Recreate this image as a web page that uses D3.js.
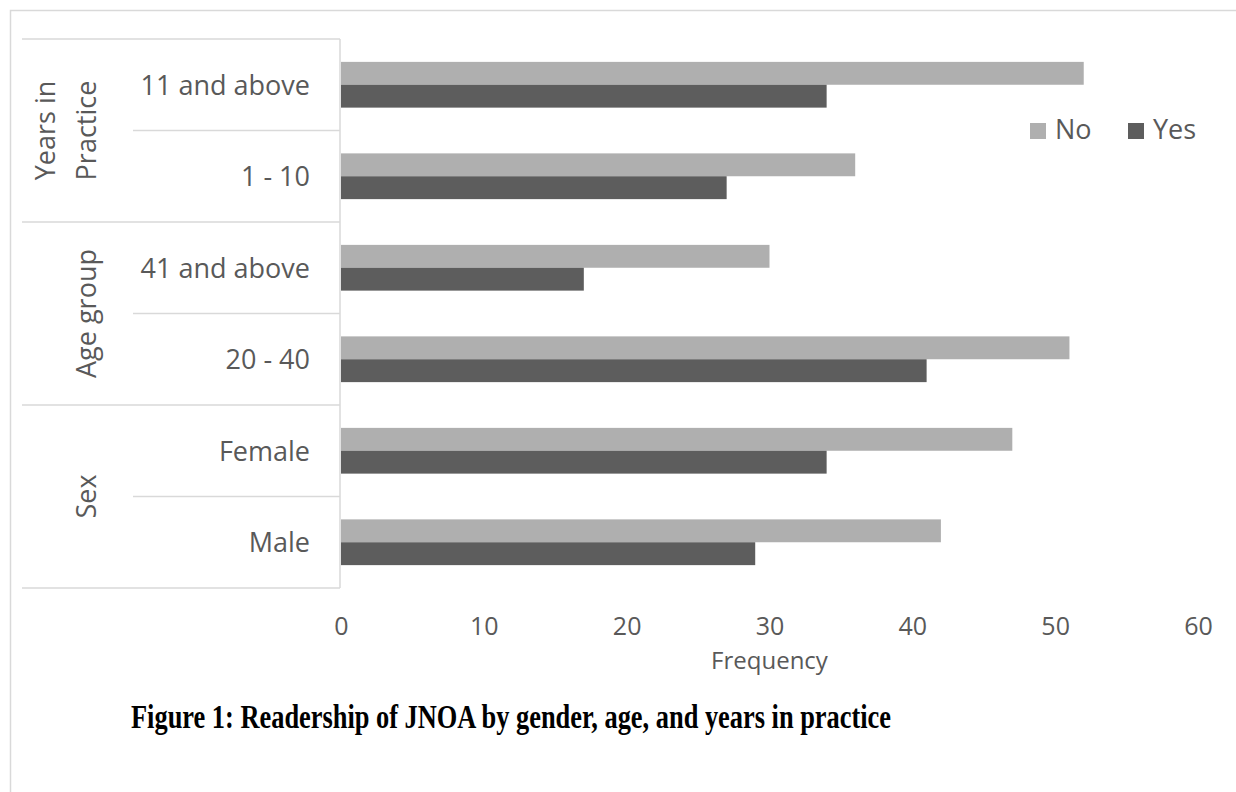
<!DOCTYPE html>
<html>
<head>
<meta charset="utf-8">
<script src="https://cdn.jsdelivr.net/npm/d3@7"></script>
<style>
  body { margin: 0; background: #fff; }
  svg { display: block; }
</style>
</head>
<body>
<div class="chart"></div>
<script>
// categories top to bottom
const categories = ["11 and above", "1 - 10", "41 and above", "20 - 40", "Female", "Male"];
const groups = [
  { lines: ["Years in", "Practice"], members: ["11 and above", "1 - 10"] },
  { lines: ["Age group"], members: ["41 and above", "20 - 40"] },
  { lines: ["Sex"], members: ["Female", "Male"] }
];
const seriesNames = ["No", "Yes"];
const noValues = [52, 36, 30, 51, 47, 42];
const yesValues = [34, 27, 17, 41, 34, 29];
const xTicks = [0, 10, 20, 30, 40, 50, 60];
const axisTitle = "Frequency";
const caption = "Figure 1: Readership of JNOA by gender, age, and years in practice";

const width = 1236, height = 792;
const textColor = "#595959";
const lineColor = "#d9d9d9";
const colors = { No: "#afafaf", Yes: "#5d5d5d" };
const font = "'Open Sans', sans-serif";

const svg = d3.select(".chart").append("svg")
  .attr("width", width)
  .attr("height", height);

// outer frame (cut off at right and bottom like the source)
svg.append("rect")
  .attr("x", 10.5).attr("y", 10.5)
  .attr("width", 1300).attr("height", 900)
  .attr("fill", "none")
  .attr("stroke", lineColor)
  .attr("stroke-width", 1.5);

const plotTop = 39, plotBottom = 588;
const x = d3.scaleLinear().domain([0, 60]).range([341, 1198]);
const y = d3.scaleBand().domain(categories).range([plotTop, plotBottom])
  .paddingInner(0.5).paddingOuter(0.25);
const ySub = d3.scaleBand().domain(seriesNames).range([0, y.bandwidth()]);

const rows = categories.map((c, i) => ({ cat: c, No: noValues[i], Yes: yesValues[i] }));

// bars
const rowG = svg.append("g").selectAll("g")
  .data(rows)
  .join("g")
  .attr("transform", d => `translate(0,${y(d.cat)})`);

rowG.selectAll("rect")
  .data(d => seriesNames.map(s => ({ key: s, value: d[s] })))
  .join("rect")
  .attr("x", x(0))
  .attr("y", d => ySub(d.key))
  .attr("width", d => x(d.value) - x(0))
  .attr("height", ySub.bandwidth())
  .attr("fill", d => colors[d.key]);

// category axis table lines
const step = y.step();
const lines = svg.append("g").attr("stroke", lineColor).attr("stroke-width", 1.5);
lines.append("line")
  .attr("x1", 340).attr("x2", 340)
  .attr("y1", plotTop).attr("y2", plotBottom);

categories.forEach((c, i) => {
  const yy = plotTop + step * i;
  lines.append("line")
    .attr("x1", i % 2 === 0 ? 22 : 133).attr("x2", 340)
    .attr("y1", yy).attr("y2", yy);
});
lines.append("line")
  .attr("x1", 22).attr("x2", 340)
  .attr("y1", plotBottom).attr("y2", plotBottom);

// category labels
svg.append("g").selectAll("text")
  .data(categories)
  .join("text")
  .attr("x", 310)
  .attr("y", d => y(d) + y.bandwidth() / 2 + 10)
  .attr("text-anchor", "end")
  .style("font-family", font)
  .style("font-size", "27px")
  .style("fill", textColor)
  .text(d => d);

// group labels (rotated)
groups.forEach(g => {
  const y0 = plotTop + step * categories.indexOf(g.members[0]);
  const cy = y0 + step * g.members.length / 2;
  const n = g.lines.length;
  g.lines.forEach((ln, j) => {
    const bx = 96 - (n - 1 - j) * 41;
    svg.append("text")
      .attr("transform", `translate(${bx},${cy}) rotate(-90)`)
      .attr("text-anchor", "middle")
      .style("font-family", font)
      .style("font-size", "27px")
      .style("fill", textColor)
      .text(ln);
  });
});

// x axis (labels only)
const xAxis = svg.append("g")
  .attr("transform", "translate(0,635)")
  .call(d3.axisBottom(x).tickValues(xTicks).tickSize(0).tickPadding(0));
xAxis.select(".domain").remove();
xAxis.selectAll("text")
  .attr("y", 0).attr("dy", 0)
  .style("font-family", font)
  .style("font-size", "25px")
  .style("fill", textColor);

svg.append("text")
  .attr("x", (x(0) + x(60)) / 2)
  .attr("y", 669)
  .attr("text-anchor", "middle")
  .style("font-family", font)
  .style("font-size", "24px")
  .style("fill", textColor)
  .text(axisTitle);

// legend
const legendX = [1030, 1128];
const legend = svg.append("g").selectAll("g")
  .data(seriesNames)
  .join("g")
  .attr("transform", (d, i) => `translate(${legendX[i]},123)`);
legend.append("rect")
  .attr("width", 16).attr("height", 16)
  .attr("fill", d => colors[d]);
legend.append("text")
  .attr("x", 25).attr("y", 16)
  .style("font-family", font)
  .style("font-size", "27px")
  .style("fill", textColor)
  .text(d => d);

// caption
svg.append("text")
  .attr("x", 131)
  .attr("y", 728)
  .attr("textLength", 760)
  .attr("lengthAdjust", "spacingAndGlyphs")
  .style("font-family", "'Liberation Serif', 'Times New Roman', serif")
  .style("font-weight", "bold")
  .style("font-size", "33px")
  .style("fill", "#000")
  .text(caption);
</script>
</body>
</html>
